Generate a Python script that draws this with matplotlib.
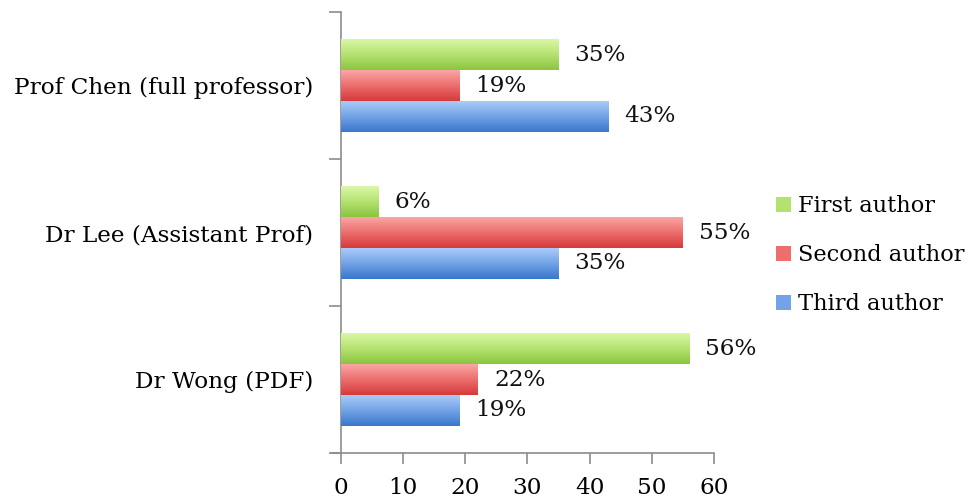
import numpy as np
import matplotlib.pyplot as plt
from matplotlib.colors import LinearSegmentedColormap
from matplotlib.patches import Patch

# Datos
people = ['Prof Chen (full professor)', 'Dr Lee (Assistant Prof)', 'Dr Wong (PDF)']
first_author = [35, 6, 56]
second_author = [19, 55, 22]
third_author = [43, 35, 19]
series_names = ['First author', 'Second author', 'Third author']
# (claro arriba, medio, oscuro abajo)
series_colors = [('#dbf7a6', '#b4e270', '#8cc540'),
                 ('#fba5a5', '#ec6e6e', '#d63a3a'),
                 ('#a9cbf7', '#72a3e6', '#3a77cb')]

plt.rcParams['font.family'] = ['DejaVu Serif']
fs = 16.7
fig = plt.figure(figsize = (9.71, 5.0), dpi = 100)
ax = fig.add_axes([0.3512, 0.094, 0.3841, 0.882])

y = np.arange(len(people))
h = 0.21
offsets = [-h, 0, h]
values = [first_author, second_author, third_author]

for vals, off, (c_top, c_mid, c_bot) in zip(values, offsets, series_colors):
    bars = ax.barh(y + off, vals, height = h, color = c_bot, edgecolor = 'none', zorder = 2)
    cmap = LinearSegmentedColormap.from_list('g', [c_top, c_mid, c_bot])
    grad = np.linspace(0, 1, 64).reshape(-1, 1)
    for b, v in zip(bars, vals):
        x0, y0 = b.get_x(), b.get_y()
        w, bh = b.get_width(), b.get_height()
        # gradiente vertical dentro de la barra (eje y invertido)
        ax.imshow(grad, cmap = cmap, aspect = 'auto', extent = (x0, x0 + w, y0 + bh, y0),
                  origin = 'upper', zorder = 3, interpolation = 'bilinear')
        ax.text(x0 + w + 2.6, y0 + bh / 2, str(v) + '%', va = 'center', ha = 'left',
                fontsize = fs, color = '#111111', zorder = 4)

ax.set_xlim(0, 60)
ax.set_ylim(2.5, -0.5)
ax.set_aspect('auto')
ax.set_xticks(range(0, 61, 10))
ax.set_yticks(y)
ax.set_yticklabels(people)
ax.set_yticks([-0.5, 0.5, 1.5, 2.5], minor = True)
ax.tick_params(axis = 'y', which = 'major', length = 0, pad = 20, labelsize = fs)
ax.tick_params(axis = 'y', which = 'minor', length = 9, color = '#8c8c8c', width = 1.2)
ax.tick_params(axis = 'x', length = 8, color = '#8c8c8c', width = 1.2, labelsize = fs, pad = 9)
for s in ['top', 'right']:
    ax.spines[s].set_visible(False)
ax.spines['left'].set_color('#8c8c8c')
ax.spines['bottom'].set_color('#8c8c8c')
ax.spines['left'].set_linewidth(1.2)
ax.spines['bottom'].set_linewidth(1.2)
ax.spines['bottom'].set_bounds(-1.5, 60)

handles = [Patch(facecolor = c[1], edgecolor = 'none') for c in series_colors]
ax.legend(handles, series_names, loc = 'center left', bbox_to_anchor = (1.113, 0.449),
          frameon = False, fontsize = 16.2, handlelength = 0.65, handleheight = 0.65,
          handletextpad = 0.3, labelspacing = 1.2)

plt.savefig('out.png', dpi = 100)
